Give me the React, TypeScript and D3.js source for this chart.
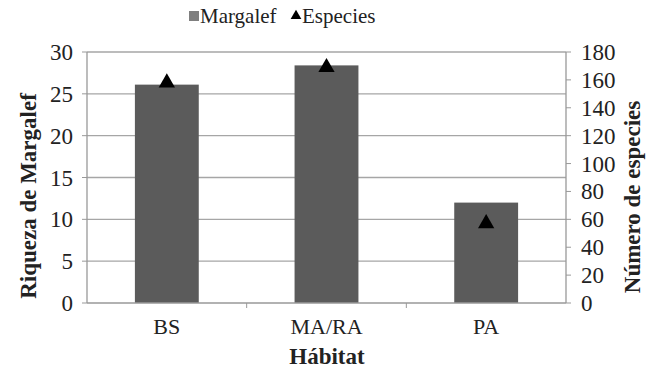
import React from "react";
import * as d3 from "d3";

const categories = ["BS", "MA/RA", "PA"];
const margalef = [26.1, 28.4, 12.0];
const especies = [158, 169, 57];
const leftTicks = [0, 5, 10, 15, 20, 25, 30];
const rightTicks = [0, 20, 40, 60, 80, 100, 120, 140, 160, 180];

const FONT = "Liberation Serif";
const tStyle = { fontFamily: FONT };

export default function App() {
  const W = 655, H = 371;
  const L = 87, R = 566, T = 52, B = 303;
  const x = d3.scaleBand().domain(categories).range([L, R]).paddingInner(0.6).paddingOuter(0.3);
  const band = d3.scaleBand().domain(categories).range([L, R]);
  const yL = d3.scaleLinear().domain([0, 30]).range([B, T]);
  const yR = d3.scaleLinear().domain([0, 180]).range([B, T]);
  const tri = d3.symbol().type(d3.symbolTriangle).size(115)();
  const triSmall = d3.symbol().type(d3.symbolTriangle).size(50)();
  return (
    <svg width={W} height={H} style={{ position: "absolute", left: 0, top: 0 }}>
      <rect width={W} height={H} fill="#fff" />
      {leftTicks.filter(t => t > 0).map(t => (
        <line key={t} x1={L} x2={R} y1={yL(t)} y2={yL(t)} stroke="#a6a6a6" strokeWidth={1.3} />
      ))}
      {categories.map((c, i) => (
        <rect key={c} x={x(c)} y={yL(margalef[i])} width={x.bandwidth()} height={B - yL(margalef[i])} fill="#5b5b5b" />
      ))}
      <line x1={L} x2={L} y1={T} y2={B} stroke="#999" strokeWidth={1.3} />
      <line x1={R} x2={R} y1={T} y2={B} stroke="#999" strokeWidth={1.3} />
      <line x1={L} x2={R} y1={B} y2={B} stroke="#999" strokeWidth={1.3} />
      {leftTicks.map(t => (
        <g key={t}>
          <line x1={L - 5} x2={L} y1={yL(t)} y2={yL(t)} stroke="#999" />
          <text x={73} y={yL(t)} dy="0.35em" textAnchor="end" fontSize={23} fill="#222" style={tStyle}>{t}</text>
        </g>
      ))}
      {rightTicks.map(t => (
        <g key={t}>
          <line x1={R} x2={R + 5} y1={yR(t)} y2={yR(t)} stroke="#999" />
          <text x={581} y={yR(t)} dy="0.35em" textAnchor="start" fontSize={23} fill="#222" style={tStyle}>{t}</text>
        </g>
      ))}
      {categories.map((c, i) => (
        <g key={c}>
          {i > 0 && <line x1={band(c)} x2={band(c)} y1={B} y2={B + 5} stroke="#999" />}
          <text x={(band(c) as number) + band.bandwidth() / 2} y={B + 31} textAnchor="middle" fontSize={22} fill="#222" style={tStyle}>{c}</text>
        </g>
      ))}
      {categories.map((c, i) => (
        <path key={c} d={tri as string} transform={`translate(${(x(c) as number) + x.bandwidth() / 2},${yR(especies[i])})`} fill="#000" />
      ))}
      <text x={327} y={364} textAnchor="middle" fontSize={23} fontWeight="bold" fill="#222" style={tStyle}>Hábitat</text>
      <text transform={`translate(36,196) rotate(-90)`} textAnchor="middle" fontSize={23} fontWeight="bold" fill="#222" style={tStyle}>Riqueza de Margalef</text>
      <text transform={`translate(640,197) rotate(-90)`} textAnchor="middle" fontSize={23} fontWeight="bold" fill="#222" style={tStyle}>Número de especies</text>
      <rect x={189} y={11} width={10} height={10} fill="#7f7f7f" />
      <text x={200} y={23} fontSize={21} fill="#222" style={tStyle}>Margalef</text>
      <path d={triSmall as string} transform="translate(296,16)" fill="#000" />
      <text x={302} y={23} fontSize={21} fill="#222" style={tStyle}>Especies</text>
    </svg>
  );
}
